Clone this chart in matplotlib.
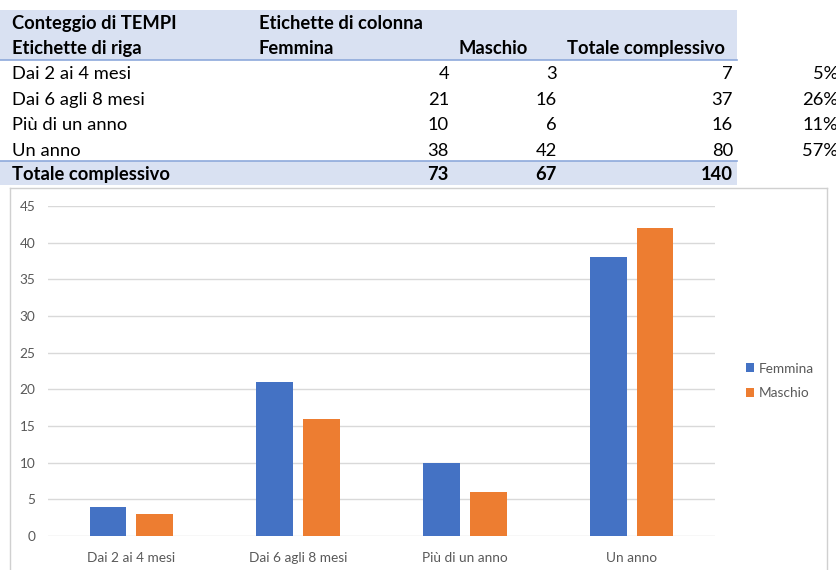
import matplotlib
matplotlib.use("Agg")
import matplotlib.pyplot as plt
from matplotlib.patches import Rectangle, Patch
from matplotlib.lines import Line2D

# Pivot data: count of TEMPI by age band and sex
categories = ["Dai 2 ai 4 mesi", "Dai 6 agli 8 mesi", "Più di un anno", "Un anno"]
femmina = [4, 21, 10, 38]
maschio = [3, 16, 6, 42]
series_names = ["Femmina", "Maschio"]
yticks = [0, 5, 10, 15, 20, 25, 30, 35, 40, 45]

totals = [f + m for f, m in zip(femmina, maschio)]
grand_f = sum(femmina)
grand_m = sum(maschio)
grand = sum(totals)
shares = [f"{round(100 * t / grand)}%" for t in totals]

W, H = 837, 570
fig = plt.figure(figsize=(W / 100, H / 100), dpi=100)
fig.patch.set_facecolor("white")

FONT = ["Lato", "DejaVu Sans"]
BAND = "#D9E1F2"
RULE = "#8EA9DB"
BLUE = "#4472C4"
ORANGE = "#ED7D31"
TABLE_SIZE = 13.2
CHART_SIZE = 9.8


def fx(px):
    return px / W


def fy(py):
    return 1 - py / H


def band(x0, x1, y0, y1, color):
    fig.patches.append(Rectangle((fx(x0), fy(y1)), fx(x1) - fx(x0), fy(y0) - fy(y1),
                                 transform=fig.transFigure, facecolor=color,
                                 edgecolor="none", zorder=0))


def hline(x0, x1, y, color, lw):
    fig.lines.append(Line2D([fx(x0), fx(x1)], [fy(y), fy(y)], transform=fig.transFigure,
                            color=color, lw=lw, zorder=1))


def vline(x, y0, y1, color, lw):
    fig.lines.append(Line2D([fx(x), fx(x)], [fy(y0), fy(y1)], transform=fig.transFigure,
                            color=color, lw=lw, zorder=1))


def cell(x, y, s, ha="left", bold=False):
    # y is the text baseline in pixels
    fig.text(fx(x), fy(y), s, ha=ha, va="baseline", fontsize=TABLE_SIZE,
             fontweight="bold" if bold else "normal", family=FONT, color="black")


# --- pivot table ---
band(0, 737, 10, 60, BAND)
band(0, 737, 161, 185, BAND)
hline(0, 737, 60, RULE, 1.2)
hline(0, 737, 161, RULE, 1.2)

cell(12, 29, "Conteggio di TEMPI", bold=True)
cell(259, 29, "Etichette di colonna", bold=True)
cell(12, 54, "Etichette di riga", bold=True)
cell(259, 54, "Femmina", bold=True)
cell(459, 54, "Maschio", bold=True)
cell(567, 54, "Totale complessivo", bold=True)

row_y = [79, 105, 130, 156]
for y, cat, f, m, t, s in zip(row_y, categories, femmina, maschio, totals, shares):
    cell(12, y, cat)
    cell(449, y, str(f), ha="right")
    cell(557, y, str(m), ha="right")
    cell(733, y, str(t), ha="right")
    cell(838, y, s, ha="right")

cell(12, 180, "Totale complessivo", bold=True)
cell(449, 180, str(grand_f), ha="right", bold=True)
cell(557, 180, str(grand_m), ha="right", bold=True)
cell(733, 180, str(grand), ha="right", bold=True)

# --- chart frame ---
hline(10, 827, 188, "#D0D0D0", 1.0)
vline(10, 188, 570, "#D0D0D0", 1.0)
vline(827, 188, 570, "#D0D0D0", 1.0)

# --- clustered column chart ---
ax = fig.add_axes([fx(48), fy(536), fx(715) - fx(48), fy(206) - fy(536)])
x = list(range(len(categories)))
w = 0.22
off = 0.14
ax.bar([i - off for i in x], femmina, width=w, color=BLUE, zorder=3, label=series_names[0])
ax.bar([i + off for i in x], maschio, width=w, color=ORANGE, zorder=3, label=series_names[1])

ax.set_xlim(-0.5, len(categories) - 0.5)
ax.set_ylim(0, 45)
ax.set_yticks(yticks)
ax.set_xticks(x)
ax.set_xticklabels(categories)
ax.yaxis.grid(True, color="#D9D9D9", lw=1.0, zorder=0)
ax.set_axisbelow(True)
for sp in ax.spines.values():
    sp.set_visible(False)
ax.tick_params(axis="both", length=0, labelsize=CHART_SIZE, labelcolor="#595959")
ax.tick_params(axis="y", pad=9)
ax.tick_params(axis="x", pad=11.5)
for lab in ax.get_xticklabels() + ax.get_yticklabels():
    lab.set_family(FONT)

handles = [Patch(facecolor=BLUE), Patch(facecolor=ORANGE)]
fig.legend(handles, series_names, loc="center left",
           bbox_to_anchor=(fx(734), fy(381)), frameon=False,
           handlelength=0.6, handleheight=0.6, handletextpad=0.35,
           labelspacing=0.95, prop={"family": FONT, "size": CHART_SIZE},
           labelcolor="#595959")

fig.savefig("out.png", dpi=100, facecolor="white")
